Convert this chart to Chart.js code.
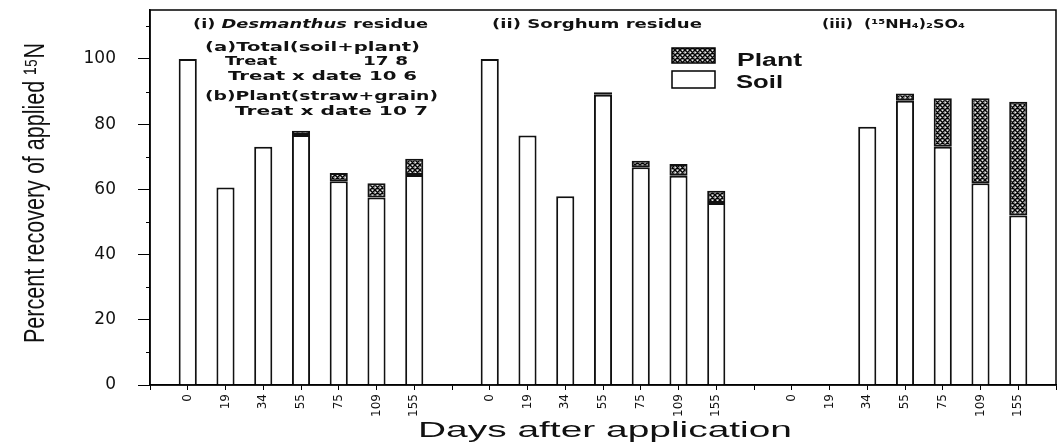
<!DOCTYPE html>
<html>
<head>
<meta charset="utf-8">
<script src="https://cdn.jsdelivr.net/npm/chart.js@4.4.0/dist/chart.umd.min.js"></script>
<style>
  html, body { margin: 0; padding: 0; background: #fff; }
</style>
</head>
<body>
<canvas id="chart" width="1059" height="444"></canvas>
<script>
// Data
const days = ['0', '19', '34', '55', '75', '109', '155'];
const desmSoil  = [100, 60.6, 73.1, 76.7, 62.5, 57.5, 64.4];
const desmPlant = [null, null, null, 1.3, 2.5, 4.4, 5];
const sorgSoil  = [100, 76.5, 57.9, 89, 66.8, 64.2, 55.8];
const sorgPlant = [null, null, null, 0.8, 2, 3.6, 3.8];
const amsSoil   = [null, null, 79.2, 87.2, 73.1, 61.9, 52];
const amsPlant  = [null, null, null, 2.2, 14.8, 26, 34.9];
const yTicks = [0, 20, 40, 60, 80, 100];

// one empty slot at each end and between the three treatments
const labels = [''].concat(days, [''], days, [''], days, ['']);
const soil = [null].concat(desmSoil, [null], sorgSoil, [null], amsSoil, [null]);
const plant = [null].concat(desmPlant, [null], sorgPlant, [null], amsPlant, [null]);

const canvas = document.getElementById('chart');
const ctx = canvas.getContext('2d');

// hatched fill for the plant part
function makeHatch() {
    const c = document.createElement('canvas');
    c.width = 5; c.height = 5;
    const g = c.getContext('2d');
    g.fillStyle = '#9a9a9a';
    g.fillRect(0, 0, 5, 5);
    g.strokeStyle = '#000';
    g.lineWidth = 1.2;
    g.beginPath();
    g.moveTo(0, 5); g.lineTo(5, 0);
    g.moveTo(-2.5, 2.5); g.lineTo(2.5, -2.5);
    g.moveTo(2.5, 7.5); g.lineTo(7.5, 2.5);
    g.moveTo(0, 0); g.lineTo(5, 5);
    g.stroke();
    g.fillStyle = '#eee';
    g.fillRect(2, 0, 1, 1);
    g.fillRect(0, 2, 1, 1);
    return ctx.createPattern(c, 'repeat');
}
const hatch = makeHatch();

// draw text pieces stretched to a given width
function drawFit(c, parts, x, y, w) {
    let total = 0;
    parts.forEach(p => { c.font = p.font; total += c.measureText(p.t).width; });
    c.save();
    c.translate(x, y);
    c.scale(w / total, 1);
    let cx = 0;
    parts.forEach(p => { c.font = p.font; c.fillText(p.t, cx, 0); cx += c.measureText(p.t).width; });
    c.restore();
}

const B = 'bold 13px "DejaVu Sans"';
const BI = 'italic bold 13px "DejaVu Sans"';

const extras = {
    id: 'extras',
    afterDraw(chart) {
        const c = chart.ctx;
        const a = chart.chartArea;
        const y = chart.scales.y;
        c.save();
        // frame
        c.strokeStyle = '#000';
        c.lineWidth = 1.5;
        c.strokeRect(a.left, a.top, a.right - a.left, a.bottom - a.top);
        // minor y ticks
        c.lineWidth = 1;
        for (let v = 10; v <= 110; v += 20) {
            const py = Math.round(y.getPixelForValue(v)) + 0.5;
            c.beginPath();
            c.moveTo(a.left - 4, py);
            c.lineTo(a.left, py);
            c.stroke();
        }
        c.fillStyle = '#111';
        c.textBaseline = 'middle';
        c.textAlign = 'left';
        // panel headings
        drawFit(c, [{t: '(i) ', font: B}, {t: 'Desmanthus', font: BI}, {t: ' residue', font: B}], 193, 25, 235);
        drawFit(c, [{t: '(ii) Sorghum residue', font: B}], 492, 25, 210);
        drawFit(c, [{t: '(iii)  (¹⁵NH₄)₂SO₄', font: B}], 822, 25, 143);
        // LSD notes
        drawFit(c, [{t: '(a)Total(soil+plant)', font: B}], 205, 48, 215);
        drawFit(c, [{t: 'Treat', font: B}], 225, 62, 52);
        drawFit(c, [{t: '17 8', font: B}], 363, 62, 45);
        drawFit(c, [{t: 'Treat x date 10 6', font: B}], 228, 77, 189);
        drawFit(c, [{t: '(b)Plant(straw+grain)', font: B}], 205, 97, 233);
        drawFit(c, [{t: 'Treat x date 10 7', font: B}], 235, 112, 193);
        // legend
        c.fillStyle = hatch;
        c.fillRect(672, 48, 43, 15);
        c.strokeStyle = '#000';
        c.lineWidth = 1.5;
        c.strokeRect(672, 48, 43, 15);
        c.fillStyle = '#fff';
        c.fillRect(672, 71, 43, 17);
        c.strokeRect(672, 71, 43, 17);
        c.fillStyle = '#111';
        drawFit(c, [{t: 'Plant', font: 'bold 18px "Liberation Sans"'}], 737, 61, 65);
        drawFit(c, [{t: 'Soil', font: 'bold 18px "Liberation Sans"'}], 736, 83, 47);
        // axis titles
        c.textBaseline = 'alphabetic';
        drawFit(c, [{t: 'Days after application', font: '22px "Liberation Sans"'}], 418, 437, 374);
        c.translate(44, 343);
        c.rotate(-Math.PI / 2);
        drawFit(c, [{t: 'Percent recovery of applied ¹⁵N', font: '30px "Liberation Sans"'}], 0, 0, 300);
        c.restore();
    }
};

new Chart(ctx, {
    type: 'bar',
    data: {
        labels: labels,
        datasets: [{
            label: 'Soil',
            data: soil,
            backgroundColor: '#fff',
            borderColor: '#111',
            borderWidth: 2,
            borderSkipped: 'start',
            barPercentage: 0.48,
            categoryPercentage: 1
        }, {
            label: 'Plant',
            data: plant,
            backgroundColor: hatch,
            borderColor: '#111',
            borderWidth: 2,
            borderSkipped: false,
            barPercentage: 0.48,
            categoryPercentage: 1
        }]
    },
    options: {
        responsive: false,
        animation: false,
        layout: { padding: { top: 10, right: 3, left: 0, bottom: 0 } },
        plugins: { legend: { display: false }, tooltip: { enabled: false } },
        scales: {
            x: {
                stacked: true,
                offset: false,
                afterFit(scale) {
                    scale.height = 59;
                    scale.paddingLeft = 0;
                    scale.paddingRight = 0;
                },
                grid: { display: true, drawOnChartArea: false, tickLength: 5, color: '#000', offset: false },
                border: { color: '#000', width: 1.5 },
                ticks: {
                    autoSkip: false,
                    minRotation: 90,
                    maxRotation: 90,
                    padding: 4,
                    color: '#111',
                    font: { family: 'DejaVu Sans', size: 12 }
                }
            },
            y: {
                stacked: true,
                min: 0,
                max: 115,
                afterFit(scale) {
                    scale.width = 150;
                    scale.paddingTop = 0;
                    scale.paddingBottom = 0;
                },
                grid: {
                    display: true,
                    drawOnChartArea: false,
                    tickLength: 12,
                    tickColor: c => (yTicks.includes(c.tick.value) ? '#000' : 'rgba(0,0,0,0)')
                },
                border: { color: '#000', width: 1.5 },
                ticks: {
                    stepSize: 10,
                    padding: 22,
                    color: '#111',
                    font: { family: 'DejaVu Sans', size: 17 },
                    callback: v => (yTicks.includes(v) ? String(v) : '')
                }
            }
        }
    },
    plugins: [extras]
});
</script>
</body>
</html>
